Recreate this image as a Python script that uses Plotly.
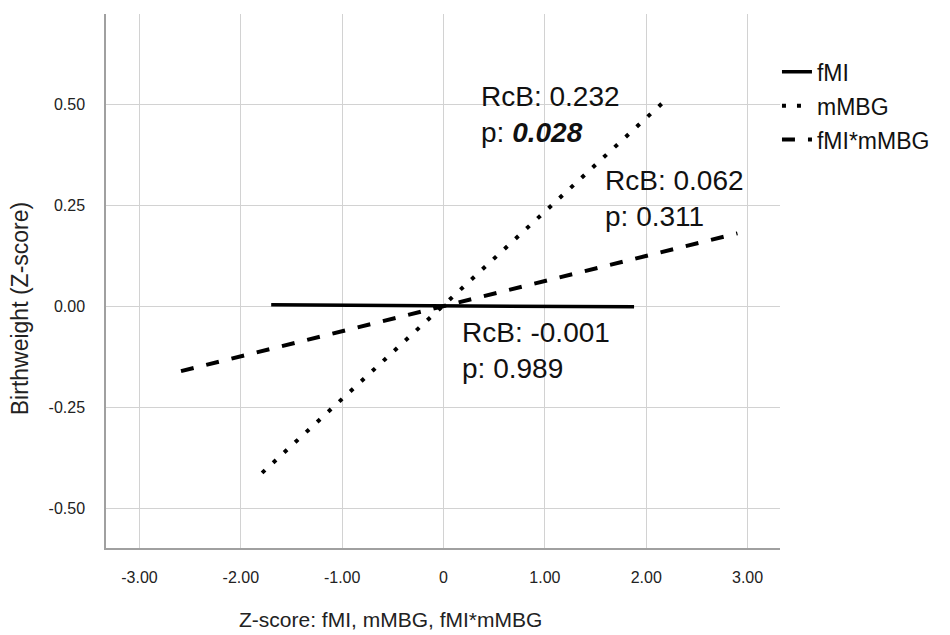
import plotly.graph_objects as go

# Data
tick_x = [-3, -2, -1, 0, 1, 2, 3]
tick_x_labels = ["-3.00", "-2.00", "-1.00", "0", "1.00", "2.00", "3.00"]
tick_y = [-0.5, -0.25, 0.0, 0.25, 0.5]
tick_y_labels = ["-0.50", "-0.25", "0.00", "0.25", "0.50"]

fmi_x = [-1.70, 1.88]
fmi_y = [0.003, -0.002]
mmbg_x = [-1.79, 2.17]
mmbg_y = [-0.413, 0.505]
inter_x = [-2.59, 2.90]
inter_y = [-0.161, 0.180]

series_names = ["fMI", "mMBG", "fMI*mMBG"]

ann_text = [
    "RcB: 0.232<br>p: <b><i>0.028</i></b>",
    "RcB: 0.062<br>p: 0.311",
    "RcB: -0.001<br>p: 0.989",
]
ann_pos = [(0.355, 0.473), (1.57, 0.266), (0.16, -0.111)]

FONT = "Liberation Sans, Arial, sans-serif"

fig = go.Figure()
fig.add_trace(go.Scatter(x=fmi_x, y=fmi_y, mode="lines", name=series_names[0],
                         legendgroup="a",
                         line=dict(color="black", width=3.5)))
fig.add_trace(go.Scatter(x=mmbg_x, y=mmbg_y, mode="lines", name=series_names[1],
                         legendgroup="b",
                         line=dict(color="black", width=4, dash="4px,11px")))
fig.add_trace(go.Scatter(x=inter_x, y=inter_y, mode="lines", name=series_names[2],
                         legendgroup="c",
                         line=dict(color="black", width=4, dash="13px,13px")))

for (ax, ay), t in zip(ann_pos, ann_text):
    fig.add_annotation(x=ax, y=ay, xref="x", yref="y", text=t, showarrow=False,
                       xanchor="left", yanchor="middle", align="left",
                       font=dict(family=FONT, size=28, color="#111111"))

# axis titles
fig.add_annotation(x=-0.1276, y=0.449, xref="paper", yref="paper",
                   text="Birthweight (Z-score)", textangle=-90, showarrow=False,
                   xanchor="center", yanchor="middle",
                   font=dict(family=FONT, size=23, color="#222222"))
fig.add_annotation(x=0.4228, y=-0.1348, xref="paper", yref="paper",
                   text="Z-score: fMI, mMBG, fMI*mMBG", showarrow=False,
                   xanchor="center", yanchor="middle",
                   font=dict(family=FONT, size=21, color="#222222"))

fig.update_layout(
    width=950, height=635,
    margin=dict(l=106, r=170, t=14, b=87),
    paper_bgcolor="white", plot_bgcolor="white",
    showlegend=True,
    legend=dict(x=0.9955, y=0.932, xanchor="left", yanchor="top",
                font=dict(family=FONT, size=23, color="#111111"),
                itemwidth=30, tracegroupgap=1, bgcolor="rgba(0,0,0,0)"),
    font=dict(family=FONT),
)
fig.update_xaxes(range=[-3.33, 3.32], tickvals=tick_x, ticktext=tick_x_labels,
                 showgrid=True, gridcolor="#d2d2d2", gridwidth=1,
                 zeroline=False, showline=True, linecolor="#a0a0a0", linewidth=1.5,
                 ticks="", ticklabelstandoff=14,
                 tickfont=dict(family=FONT, size=16, color="#222222"))
fig.update_yaxes(range=[-0.599, 0.723], tickvals=tick_y, ticktext=tick_y_labels,
                 showgrid=True, gridcolor="#d2d2d2", gridwidth=1,
                 zeroline=False, showline=True, linecolor="#a0a0a0", linewidth=1.5,
                 ticks="", ticklabelstandoff=16,
                 tickfont=dict(family=FONT, size=16, color="#222222"))

fig.write_html("out.html", config={"displayModeBar": False},
               post_script="document.body.style.margin='0px';")
